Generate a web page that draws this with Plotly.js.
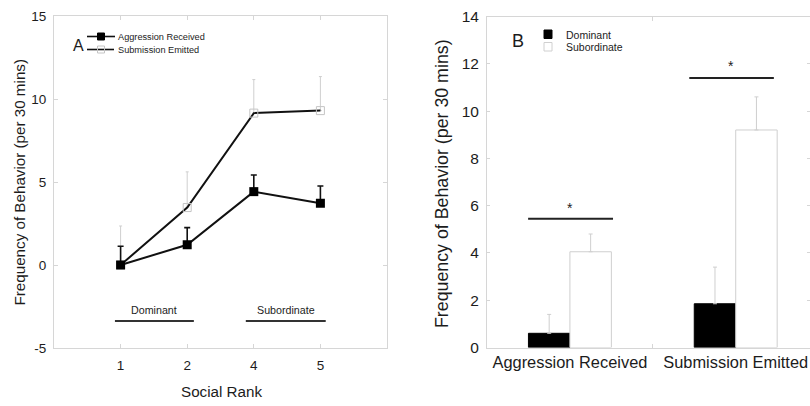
<!DOCTYPE html>
<html>
<head>
<meta charset="utf-8">
<script src="https://cdn.plot.ly/plotly-3.0.1.min.js"></script>
<style>html,body{margin:0;padding:0;background:#fff;overflow:hidden}#chart{width:810px;height:406px}</style>
</head>
<body>
<div id="chart"></div>
<script>
// ---- Panel A data ----
const rankLabels = ['1', '2', '4', '5'];
const aggMean = [0, 1.22, 4.42, 3.72];
const aggErr = [1.13, 1.03, 1.0, 1.04];
const subMean = [0, 3.46, 9.15, 9.3];
const subErr = [2.35, 2.15, 2.02, 2.05];
const yTicksA = [-5, 0, 5, 10, 15];
const yTickTextA = ['-5', '0', '5', '10', '15'];

// ---- Panel B data ----
const behaviors = ['Aggression Received', 'Submission Emitted'];
const domMean = [0.6, 1.85];
const domErr = [0.8, 1.55];
const subdMean = [4.05, 9.2];
const subdErr = [0.75, 1.4];
const yTicksB = [0, 2, 4, 6, 8, 10, 12, 14];

const W = 810, H = 406;
const px = x => x / W;
const py = y => 1 - y / H;
const FONT = 'Arial, "Liberation Sans", sans-serif';
const TXT = '#1c1c1c';
const AXC = '#d6d6d6';

const traces = [
  {
    x: rankLabels, y: subMean, xaxis: 'x', yaxis: 'y', type: 'scatter', mode: 'lines+markers',
    name: 'Submission Emitted', showlegend: false,
    line: {color: '#111', width: 2},
    marker: {symbol: 'square-open', size: 8, color: '#c4c4c4', line: {width: 1, color: '#c4c4c4'}},
    error_y: {type: 'data', symmetric: false, array: subErr, arrayminus: [0,0,0,0], color: '#cfcfcf', thickness: 1, width: 1.5}
  },
  {
    x: rankLabels, y: aggMean, xaxis: 'x', yaxis: 'y', type: 'scatter', mode: 'lines+markers',
    name: 'Aggression Received', showlegend: false,
    line: {color: '#111', width: 2},
    marker: {symbol: 'square', size: 9, color: '#000'},
    error_y: {type: 'data', symmetric: false, array: aggErr, arrayminus: [0,0,0,0], color: '#111', thickness: 1.6, width: 3}
  },
  {
    x: behaviors, y: domMean, xaxis: 'x2', yaxis: 'y2', type: 'bar', name: 'Dominant', showlegend: false,
    marker: {color: '#000', line: {color: '#000', width: 1}},
    error_y: {type: 'data', symmetric: false, array: domErr, arrayminus: [0,0], color: '#cfcfcf', thickness: 1, width: 2}
  },
  {
    x: behaviors, y: subdMean, xaxis: 'x2', yaxis: 'y2', type: 'bar', name: 'Subordinate', showlegend: false,
    marker: {color: '#fff', line: {color: '#cfcfcf', width: 1}},
    error_y: {type: 'data', symmetric: false, array: subdErr, arrayminus: [0,0], color: '#cfcfcf', thickness: 1, width: 2}
  }
];

const axisCommon = {
  showline: true, mirror: 'ticks', linecolor: AXC, linewidth: 1,
  ticks: 'inside', tickcolor: AXC, ticklen: 4, showgrid: false, zeroline: false,
  automargin: false, fixedrange: true
};

const layout = {
  width: W, height: H,
  margin: {l: 0, r: 0, t: 0, b: 0},
  paper_bgcolor: '#fff', plot_bgcolor: '#fff',
  font: {family: FONT, color: TXT},
  showlegend: false,
  barmode: 'group', bargap: 0.5, bargroupgap: 0,
  xaxis: Object.assign({}, axisCommon, {
    domain: [px(54), px(387)], anchor: 'y', type: 'category',
    range: [-1, 4], tickfont: {size: 13.5, color: TXT}, ticklabelstandoff: 5
  }),
  yaxis: Object.assign({}, axisCommon, {
    domain: [py(348), py(16)], anchor: 'x',
    range: [-5, 15], tickvals: yTicksA, ticktext: yTickTextA, tickfont: {size: 13.5, color: TXT}, ticklabelstandoff: 4
  }),
  xaxis2: Object.assign({}, axisCommon, {
    domain: [px(487), 1], anchor: 'y2', type: 'category',
    range: [-0.5, 1.448], tickson: 'boundaries', tickfont: {size: 16.4, color: TXT}, ticklabelstandoff: 0
  }),
  yaxis2: Object.assign({}, axisCommon, {
    domain: [py(347.5), py(16.5)], anchor: 'x2', ticklen: 3,
    range: [0, 14], tickvals: yTicksB, tickfont: {size: 15.5, color: TXT}, ticklabelstandoff: 4
  }),
  shapes: [
    // Panel A group lines
    {type: 'line', xref: 'x', yref: 'y', x0: -0.085, x1: 1.1, y0: -3.37, y1: -3.37, line: {color: '#333', width: 2}},
    {type: 'line', xref: 'x', yref: 'y', x0: 1.88, x1: 3.08, y0: -3.37, y1: -3.37, line: {color: '#333', width: 2}},
    // Panel B significance lines
    {type: 'line', xref: 'x2', yref: 'y2', x0: -0.252, x1: 0.26, y0: 5.45, y1: 5.45, line: {color: '#222', width: 2}},
    {type: 'line', xref: 'x2', yref: 'y2', x0: 0.72, x1: 1.23, y0: 11.4, y1: 11.4, line: {color: '#222', width: 2}},
    // Legend A
    {type: 'line', xref: 'paper', yref: 'paper', x0: px(87), x1: px(115), y0: py(36.5), y1: py(36.5), line: {color: '#111', width: 1.6}},
    {type: 'rect', xref: 'paper', yref: 'paper', x0: px(97.5), x1: px(104.5), y0: py(40), y1: py(33), fillcolor: '#000', line: {color: '#000', width: 1}},
    {type: 'line', xref: 'paper', yref: 'paper', x0: px(87), x1: px(114), y0: py(49.5), y1: py(49.5), line: {color: '#111', width: 1.6}},
    {type: 'rect', xref: 'paper', yref: 'paper', x0: px(97.5), x1: px(104.5), y0: py(53), y1: py(46), fillcolor: 'rgba(0,0,0,0)', line: {color: '#c4c4c4', width: 1}},
    // Legend B
    {type: 'rect', xref: 'paper', yref: 'paper', x0: px(544), x1: px(552), y0: py(38.5), y1: py(30), fillcolor: '#000', line: {color: '#000', width: 1}},
    {type: 'rect', xref: 'paper', yref: 'paper', x0: px(544), x1: px(552), y0: py(51), y1: py(42.5), fillcolor: '#fff', line: {color: '#d0d0d0', width: 1}}
  ],
  annotations: [
    // axis titles
    {xref: 'paper', yref: 'paper', x: px(18.5), y: py(182), text: 'Frequency of Behavior (per 30 mins)', textangle: -90, showarrow: false, font: {size: 15.2, color: TXT}, xanchor: 'center', yanchor: 'middle'},
    {xref: 'paper', yref: 'paper', x: px(221), y: py(391.5), text: 'Social Rank', showarrow: false, font: {size: 15.2, color: TXT}, xanchor: 'center', yanchor: 'middle'},
    {xref: 'paper', yref: 'paper', x: px(442), y: py(184), text: 'Frequency of Behavior (per 30 mins)', textangle: -90, showarrow: false, font: {size: 17.8, color: TXT}, xanchor: 'center', yanchor: 'middle'},
    // panel letters
    {xref: 'paper', yref: 'paper', x: px(78), y: py(45), text: 'A', showarrow: false, font: {size: 16, color: TXT}, xanchor: 'center', yanchor: 'middle'},
    {xref: 'paper', yref: 'paper', x: px(518), y: py(41), text: 'B', showarrow: false, font: {size: 18, color: TXT}, xanchor: 'center', yanchor: 'middle'},
    // legend text A
    {xref: 'paper', yref: 'paper', x: px(116), y: py(37), text: 'Aggression Received', showarrow: false, font: {size: 9.2, color: TXT}, xanchor: 'left', yanchor: 'middle'},
    {xref: 'paper', yref: 'paper', x: px(116), y: py(50), text: 'Submission Emitted', showarrow: false, font: {size: 9.2, color: TXT}, xanchor: 'left', yanchor: 'middle'},
    // legend text B
    {xref: 'paper', yref: 'paper', x: px(564), y: py(34.5), text: 'Dominant', showarrow: false, font: {size: 10.5, color: TXT}, xanchor: 'left', yanchor: 'middle'},
    {xref: 'paper', yref: 'paper', x: px(564), y: py(47), text: 'Subordinate', showarrow: false, font: {size: 10.5, color: TXT}, xanchor: 'left', yanchor: 'middle'},
    // group labels panel A
    {xref: 'x', yref: 'y', x: 0.5, y: -2.73, text: 'Dominant', showarrow: false, font: {size: 10.7, color: TXT}, xanchor: 'center', yanchor: 'middle'},
    {xref: 'x', yref: 'y', x: 2.48, y: -2.73, text: 'Subordinate', showarrow: false, font: {size: 10.7, color: TXT}, xanchor: 'center', yanchor: 'middle'},
    // significance stars
    {xref: 'x2', yref: 'y2', x: 0.0, y: 5.92, text: '*', showarrow: false, font: {size: 14, color: TXT}, xanchor: 'center', yanchor: 'middle'},
    {xref: 'x2', yref: 'y2', x: 0.97, y: 11.92, text: '*', showarrow: false, font: {size: 14, color: TXT}, xanchor: 'center', yanchor: 'middle'}
  ]
};

Plotly.newPlot('chart', traces, layout, {staticPlot: true, displayModeBar: false});
</script>
</body>
</html>
